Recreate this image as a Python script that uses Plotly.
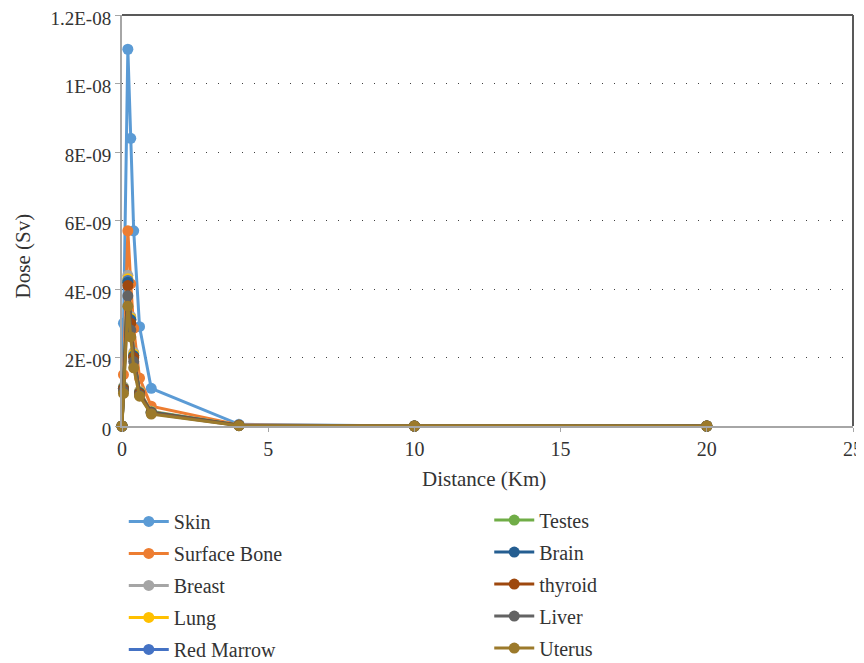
import plotly.graph_objects as go

distance_km = [0, 0.05, 0.2, 0.3, 0.4, 0.6, 1, 4, 10, 20]

skin = [0, 3.0e-9, 1.10e-8, 8.4e-9, 5.7e-9, 2.9e-9, 1.1e-9, 5e-11, 0, 0]
surface_bone = [0, 1.5e-9, 5.7e-9, 4.15e-9, 2.85e-9, 1.4e-9, 5.8e-10, 3e-11, 0, 0]
breast = [0, 1.15e-9, 4.4e-9, 3.2e-9, 2.15e-9, 1.02e-9, 4.3e-10, 2e-11, 0, 0]
lung = [0, 1.12e-9, 4.3e-9, 3.15e-9, 2.1e-9, 1.0e-9, 4.2e-10, 2e-11, 0, 0]
red_marrow = [0, 1.1e-9, 4.25e-9, 3.1e-9, 2.05e-9, 0.98e-9, 4.1e-10, 2e-11, 0, 0]
testes = [0, 1.1e-9, 4.2e-9, 3.1e-9, 2.05e-9, 0.97e-9, 4.1e-10, 2e-11, 0, 0]
brain = [0, 1.1e-9, 4.2e-9, 3.1e-9, 2.05e-9, 0.97e-9, 4.0e-10, 2e-11, 0, 0]
thyroid = [0, 1.08e-9, 4.1e-9, 3.0e-9, 2.0e-9, 0.95e-9, 3.9e-10, 2e-11, 0, 0]
liver = [0, 1.02e-9, 3.8e-9, 2.8e-9, 1.88e-9, 0.9e-9, 3.7e-10, 1e-11, 0, 0]
uterus = [0, 0.95e-9, 3.5e-9, 2.6e-9, 1.7e-9, 0.87e-9, 3.5e-10, 1e-11, 0, 0]

series_names = ["Skin", "Surface Bone", "Breast", "Lung", "Red Marrow",
                "Testes", "Brain", "thyroid", "Liver", "Uterus"]
series_values = [skin, surface_bone, breast, lung, red_marrow,
                 testes, brain, thyroid, liver, uterus]
series_colors = ["#5B9BD5", "#ED7D31", "#A5A5A5", "#FFC000", "#4472C4",
                 "#70AD47", "#255E91", "#9E480E", "#636363", "#9C7A2B"]

y_tick_vals = [0, 2e-9, 4e-9, 6e-9, 8e-9, 1e-8, 1.2e-8]
y_tick_text = ["0", "2E-09", "4E-09", "6E-09", "8E-09", "1E-08", "1.2E-08"]
x_tick_vals = [0, 5, 10, 15, 20, 25]

serif = "Liberation Serif, Times New Roman, serif"
txt = "#333333"

fig = go.Figure()
for i, (name, vals, col) in enumerate(zip(series_names, series_values, series_colors)):
    fig.add_trace(go.Scatter(
        x=distance_km, y=vals, name=name, mode="lines+markers",
        line=dict(color=col, width=3),
        marker=dict(color=col, size=11),
        cliponaxis=False,
        legendgroup=name,
        legend="legend" if i < 5 else "legend2",
    ))

fig.update_layout(
    width=864, height=663,
    margin=dict(l=114, r=19, t=7, b=245, autoexpand=False),
    paper_bgcolor="white", plot_bgcolor="white",
    font=dict(family=serif, size=19, color=txt),
    showlegend=True,
    legend=dict(
        xref="container", yref="container", x=0.134, y=0.255,
        xanchor="left", yanchor="top", orientation="v",
        font=dict(family=serif, size=20, color=txt),
        tracegroupgap=3, itemwidth=40, bgcolor="rgba(0,0,0,0)",
    ),
    legend2=dict(
        xref="container", yref="container", x=0.557, y=0.257,
        xanchor="left", yanchor="top", orientation="v",
        font=dict(family=serif, size=20, color=txt),
        tracegroupgap=3, itemwidth=40, bgcolor="rgba(0,0,0,0)",
    ),
    xaxis=dict(
        range=[0, 25], tickvals=x_tick_vals, showgrid=False, zeroline=False,
        showline=True, linecolor="#A6A6A6", linewidth=2,
        ticks="outside", ticklen=4, tickcolor="#A6A6A6",
        ticklabeloverflow="allow",
        tickfont=dict(family=serif, size=20, color=txt),
    ),
    yaxis=dict(
        range=[0, 1.2e-8], tickvals=y_tick_vals, ticktext=y_tick_text,
        showgrid=True, gridcolor="#404040", gridwidth=1, griddash="1px,11px",
        zeroline=False, showline=True, linecolor="#A6A6A6", linewidth=2,
        ticks="outside", ticklen=5, tickcolor="#A6A6A6",
        ticklabeloverflow="allow", ticklabelshift=3,
        tickfont=dict(family=serif, size=19, color=txt),
    ),
    shapes=[
        dict(type="line", xref="paper", yref="paper", x0=0, x1=1, y0=1, y1=1,
             line=dict(color="#595959", width=2), layer="below"),
        dict(type="line", xref="paper", yref="paper", x0=1, x1=1, y0=0, y1=1,
             line=dict(color="#595959", width=2), layer="below"),
    ],
    annotations=[
        dict(text="Distance (Km)", xref="paper", yref="paper", x=0.4946, y=-0.129,
             xanchor="center", yanchor="middle", showarrow=False,
             font=dict(family=serif, size=21, color=txt)),
        dict(text="Dose (Sv)", xref="paper", yref="paper", x=-0.1349, y=0.4136,
             xanchor="center", yanchor="middle", showarrow=False, textangle=-90,
             font=dict(family=serif, size=21, color=txt)),
    ],
)

fig.write_html("out.html")
